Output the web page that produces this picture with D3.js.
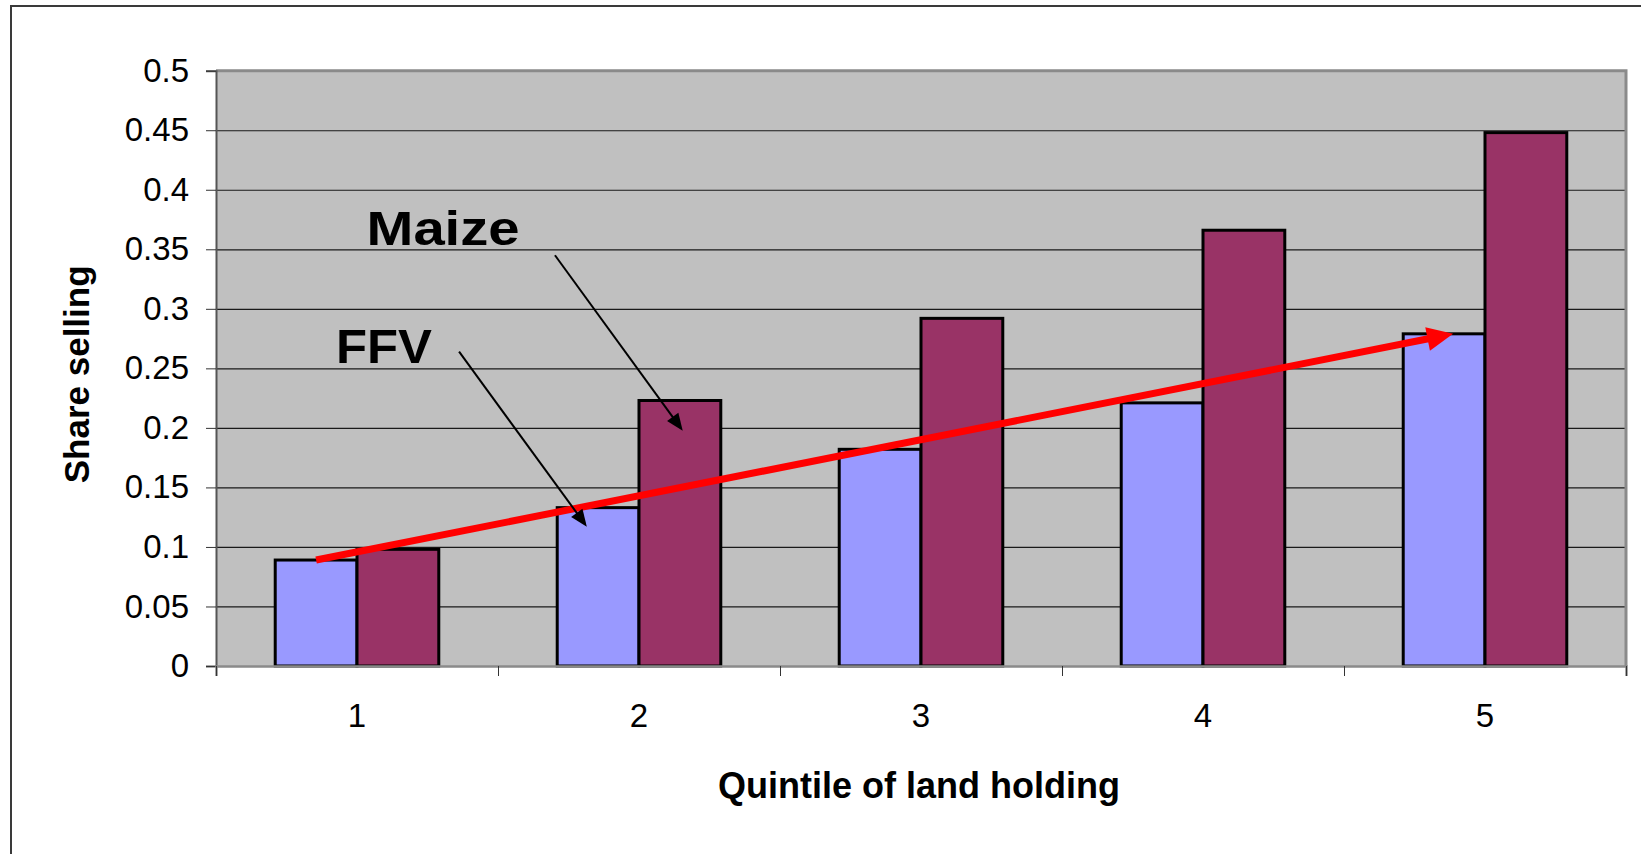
<!DOCTYPE html>
<html>
<head>
<meta charset="utf-8">
<script src="https://cdn.jsdelivr.net/npm/d3@7"></script>
<style>
  body { margin: 0; background: #fff; }
  svg { display: block; font-family: "Liberation Sans", Arial, sans-serif; }
</style>
</head>
<body>
<script>
// data
var quintiles = ["1", "2", "3", "4", "5"];
var seriesNames = ["FFV", "Maize"];
var ffv = [0.089, 0.133, 0.182, 0.221, 0.279];
var maize = [0.098, 0.223, 0.292, 0.366, 0.448];
var yTicks = [0, 0.05, 0.1, 0.15, 0.2, 0.25, 0.3, 0.35, 0.4, 0.45, 0.5];
var colors = {FFV: "#9999FF", Maize: "#993366"};

// annotation positions in data units (category position 0..5, value)
var labels = [
  {text: "Maize", c: 0.534, v: 0.3536, len: 153},
  {text: "FFV", c: 0.4255, v: 0.2547, len: 96}
];
var pointers = [
  {c0: 1.202, v0: 0.345, c1: 1.655, v1: 0.1976},
  {c0: 0.862, v0: 0.264, c1: 1.315, v1: 0.117}
];

var W = 1641, H = 854;
var margin = {top: 70.7, right: 15, bottom: 188, left: 216},
    width = W - margin.left - margin.right,
    height = H - margin.top - margin.bottom;

var svg = d3.select("body").append("svg")
    .attr("width", W)
    .attr("height", H);

// outer frame (only top and left show)
svg.append("path")
    .attr("d", "M11," + H + "V6H" + W)
    .attr("fill", "none")
    .attr("stroke", "#3a3a3a")
    .attr("stroke-width", 2);

var g = svg.append("g")
    .attr("transform", "translate(" + margin.left + "," + margin.top + ")");

// scales
var x = d3.scaleBand().domain(quintiles).range([0, width])
    .paddingInner(0.42).paddingOuter(0.21);
var xSub = d3.scaleBand().domain(seriesNames).range([0, x.bandwidth()]);
var xc = d3.scaleLinear().domain([0, quintiles.length]).range([0, width]);
var y = d3.scaleLinear().domain([0, 0.5]).range([height, 0]);

// plot background
g.append("rect")
    .attr("width", width)
    .attr("height", height)
    .attr("fill", "#C0C0C0");

// gridlines
g.append("g")
    .call(d3.axisLeft(y).tickValues(yTicks).tickSize(-width).tickFormat(""))
    .call(function(s) { s.select(".domain").remove(); })
    .selectAll("line")
    .attr("stroke", "#1a1a1a")
    .attr("stroke-width", 1.2);

// plot border top / right
g.append("path")
    .attr("d", "M0,0H" + width + "V" + height)
    .attr("fill", "none")
    .attr("stroke", "#8a8a8a")
    .attr("stroke-width", 3);

// bars
var rows = quintiles.map(function(q, i) {
  return [{q: q, s: "FFV", v: ffv[i]}, {q: q, s: "Maize", v: maize[i]}];
});

g.append("g").selectAll("g")
  .data(rows)
  .join("g")
    .attr("transform", function(d) { return "translate(" + x(d[0].q) + ",0)"; })
  .selectAll("rect")
  .data(function(d) { return d; })
  .join("rect")
    .attr("x", function(d) { return xSub(d.s); })
    .attr("y", function(d) { return y(d.v); })
    .attr("width", xSub.bandwidth())
    .attr("height", function(d) { return height - y(d.v); })
    .attr("fill", function(d) { return colors[d.s]; })
    .attr("stroke", "#000")
    .attr("stroke-width", 3);

// y axis
var yAxis = g.append("g")
    .call(d3.axisLeft(y).tickValues(yTicks).tickSize(10).tickPadding(17)
      .tickFormat(function(d) { return String(d); }));
yAxis.select(".domain").attr("stroke", "#555").attr("stroke-width", 2);
yAxis.selectAll("line").attr("stroke", "#333");
yAxis.selectAll("text")
    .attr("font-size", 33)
    .attr("font-family", "Liberation Sans, Arial, sans-serif")
    .attr("fill", "#000");

// x axis: ticks at category boundaries, labels centred
var xTicks = g.append("g")
    .attr("transform", "translate(0," + height + ")")
    .call(d3.axisBottom(xc).ticks(5).tickSize(10).tickFormat(""));
xTicks.select(".domain").attr("stroke", "#8a8a8a").attr("stroke-width", 2.5);
xTicks.selectAll("line").attr("stroke", "#333");

var xLabels = g.append("g")
    .attr("transform", "translate(0," + height + ")")
    .call(d3.axisBottom(x).tickSize(0).tickPadding(38));
xLabels.select(".domain").remove();
xLabels.selectAll("text")
    .attr("font-size", 33)
    .attr("font-family", "Liberation Sans, Arial, sans-serif")
    .attr("fill", "#000");

// axis titles
svg.append("text")
    .attr("x", 919)
    .attr("y", 798)
    .attr("text-anchor", "middle")
    .attr("font-size", 36)
    .attr("font-weight", "bold")
    .text("Quintile of land holding");

svg.append("text")
    .attr("transform", "translate(89," + (margin.top + height / 2 + 6) + ") rotate(-90)")
    .attr("text-anchor", "middle")
    .attr("font-size", 35)
    .attr("font-weight", "bold")
    .text("Share selling");

// arrow helper: line plus filled head
function arrow(sel, x0, y0, x1, y1, w, headLen, headHalf, color) {
  var dx = x1 - x0, dy = y1 - y0, L = Math.sqrt(dx * dx + dy * dy);
  var ux = dx / L, uy = dy / L;
  var bx = x1 - ux * headLen, by = y1 - uy * headLen;
  sel.append("line")
      .attr("x1", x0).attr("y1", y0)
      .attr("x2", bx + ux * 2).attr("y2", by + uy * 2)
      .attr("stroke", color)
      .attr("stroke-width", w);
  sel.append("path")
      .attr("d", "M" + x1 + "," + y1 +
        "L" + (bx - uy * headHalf) + "," + (by + ux * headHalf) +
        "L" + (bx + uy * headHalf) + "," + (by - ux * headHalf) + "Z")
      .attr("fill", color);
}

// red trend arrow from FFV quintile 1 to FFV quintile 5
var last = quintiles.length - 1;
arrow(g,
  x(quintiles[0]) + xSub("FFV") + xSub.bandwidth() / 2, y(ffv[0]),
  x(quintiles[last]) + xSub("FFV") + xSub.bandwidth() * 0.61, y(ffv[last]),
  7, 26, 12, "#FF0000");

// series labels and pointers
g.selectAll(".lbl")
  .data(labels)
  .join("text")
    .attr("class", "lbl")
    .attr("x", function(d) { return xc(d.c); })
    .attr("y", function(d) { return y(d.v); })
    .attr("font-size", 48)
    .attr("font-weight", "bold")
    .attr("textLength", function(d) { return d.len; })
    .attr("lengthAdjust", "spacingAndGlyphs")
    .text(function(d) { return d.text; });

pointers.forEach(function(p) {
  arrow(g, xc(p.c0), y(p.v0), xc(p.c1), y(p.v1), 2, 17, 7, "#000");
});
</script>
</body>
</html>
